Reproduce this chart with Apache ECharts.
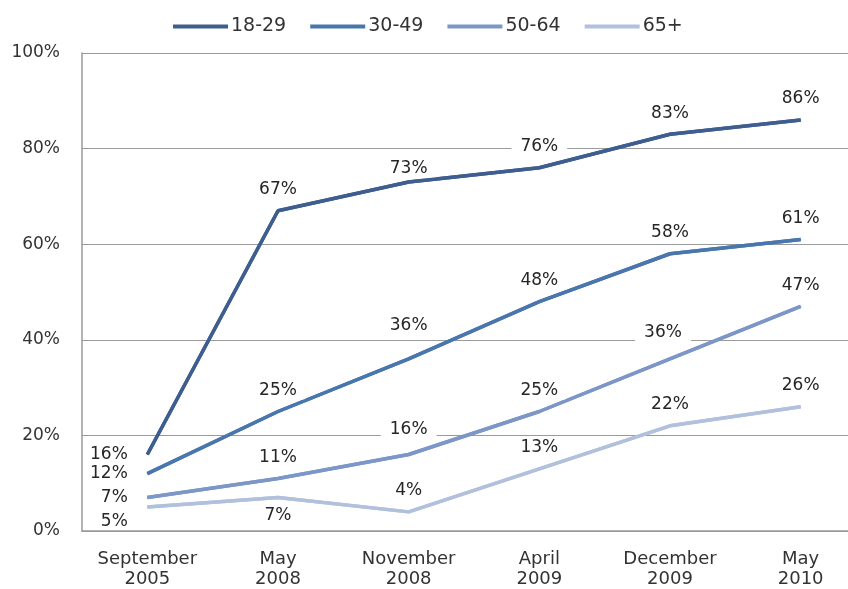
<!DOCTYPE html>
<html><head><meta charset="utf-8">
<script src="https://cdn.jsdelivr.net/npm/echarts@6/dist/echarts.min.js"></script>
<style>html,body{margin:0;padding:0;background:#fff;overflow:hidden;width:848px;height:589px}#c{width:866px;height:589px}</style>
</head><body><div id="c"></div>
<script>
const categories = ['September\n2005','May\n2008','November\n2008','April\n2009','December\n2009','May\n2010'];
const seriesNames = ['18-29','30-49','50-64','65+'];
const s1829 = [16, 67, 73, 76, 83, 86];
const s3049 = [12, 25, 36, 48, 58, 61];
const s5064 = [7, 11, 16, 25, 36, 47];
const s65 = [5, 7, 4, 13, 22, 26];
const yTicks = [0, 20, 40, 60, 80, 100];

const colors = ['#3e5e8f', '#4a76ae', '#7c97c7', '#b1c1dd'];
const values = [s1829, s3049, s5064, s65];

function labelFor(si, pi) {
  if (pi === 0) {
    return { position: 'left', distance: 17, padding: [0, 2], offset: si === 3 ? [0, 14] : [0, 0] };
  }
  if (si === 3 && pi === 1) return { position: 'bottom', distance: 8 };
  const o = { position: 'top', distance: 11, offset: [0, 0] };
  if (si === 0 && pi === 2) o.offset = [0, 8];
  if (si === 1 && pi === 2) o.offset = [0, -12];
  if (si === 2 && pi === 2) o.offset = [0, -4];
  if (si === 2 && pi === 4) o.offset = [-7, -5];
  return o;
}

// labelled series (labels with white background cover gridlines)
const labelSeries = values.map((arr, si) => ({
  name: seriesNames[si], type: 'line', showSymbol: true, symbol: 'circle', symbolSize: 1,
  color: colors[si],
  itemStyle: { color: colors[si] },
  lineStyle: { width: 3.5, color: colors[si] },
  z: 2,
  label: {
    show: true, fontSize: 17, color: '#262626', fontFamily: 'DejaVu Sans',
    backgroundColor: '#fff', padding: [1, 9], lineHeight: 17,
    formatter: p => p.value + '%'
  },
  data: arr.map((v, pi) => ({ value: v, label: labelFor(si, pi) }))
}));
// same lines drawn again above the label backgrounds
const lineSeries = values.map((arr, si) => ({
  name: seriesNames[si], type: 'line', showSymbol: false, silent: true,
  color: colors[si],
  lineStyle: { width: 3.5, color: colors[si] },
  z: 20 - si,
  data: arr
}));

const chart = echarts.init(document.getElementById('c'));
chart.setOption({
  animation: false,
  textStyle: { fontFamily: 'DejaVu Sans' },
  legend: {
    top: 12, left: 168,
    icon: 'rect', itemWidth: 55, itemHeight: 4, itemGap: 24,
    textStyle: { fontSize: 19, color: '#333', fontFamily: 'DejaVu Sans', padding: [0, 0, 0, -2] },
    data: seriesNames
  },
  grid: { left: 82, top: 53, bottom: 56, right: 0 },
  xAxis: {
    type: 'category', data: categories, boundaryGap: true,
    axisLine: { lineStyle: { color: '#9a9a9a', width: 1.5 } },
    axisTick: { show: false },
    axisLabel: { fontSize: 18, lineHeight: 20, color: '#333', margin: 18, interval: 0 }
  },
  yAxis: {
    type: 'value', min: yTicks[0], max: yTicks[yTicks.length - 1], interval: 20,
    axisLine: { show: true, lineStyle: { color: '#9a9a9a', width: 1.5 } },
    axisTick: { show: false },
    splitLine: { lineStyle: { color: '#9a9a9a', width: 1 } },
    axisLabel: { fontSize: 17, color: '#333', margin: 22, formatter: v => v + '%' }
  },
  series: labelSeries.concat(lineSeries)
});
</script></body></html>
